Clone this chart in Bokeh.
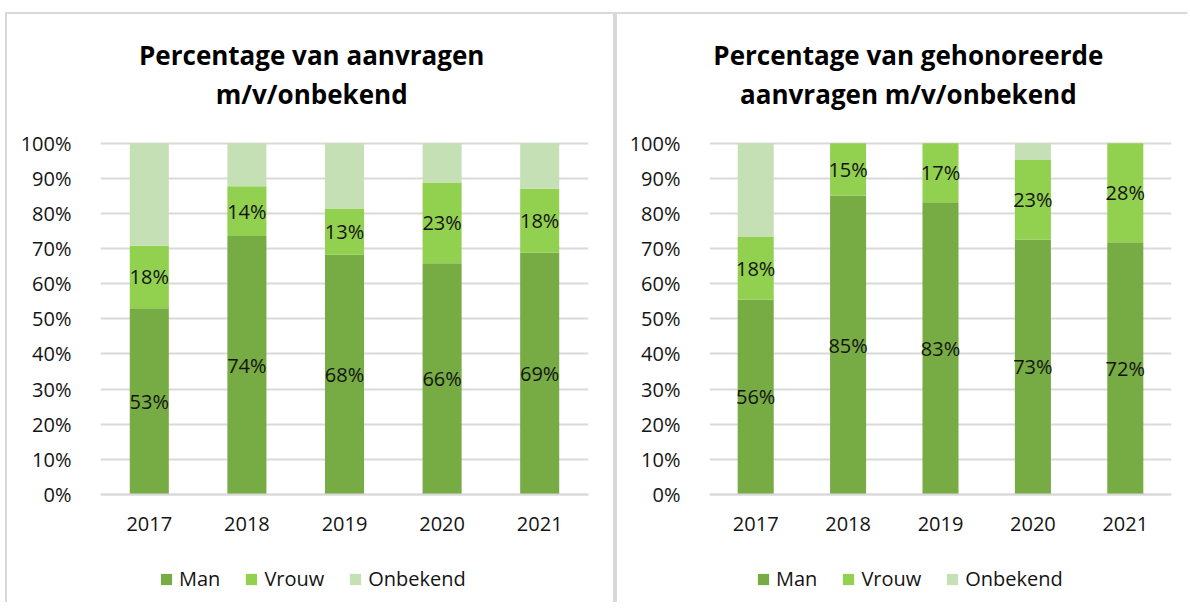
from bokeh.plotting import figure
from bokeh.models import (ColumnDataSource, FactorRange, Range1d, FixedTicker,
                          PrintfTickFormatter, LabelSet, Label)
from bokeh.layouts import row
from bokeh.embed import file_html
from bokeh.resources import INLINE
from bokeh.core.properties import value

# ---------------- data ----------------
years = ["2017", "2018", "2019", "2020", "2021"]
series = ["Man", "Vrouw", "Onbekend"]

# Percentage van aanvragen
aanv_man = [53.0, 73.6, 68.2, 65.8, 68.8]
aanv_vrouw = [17.8, 14.1, 13.2, 23.0, 18.2]
aanv_onbekend = [29.2, 12.3, 18.6, 11.2, 13.0]

# Percentage van gehonoreerde aanvragen
hon_man = [55.5, 85.0, 83.2, 72.6, 71.8]
hon_vrouw = [17.8, 15.0, 16.8, 22.6, 28.2]
hon_onbekend = [26.7, 0.0, 0.0, 4.8, 0.0]

title_left = ["Percentage van aanvragen", "m/v/onbekend"]
title_right = ["Percentage van gehonoreerde", "aanvragen m/v/onbekend"]

colors = ["#77AB43", "#92D050", "#C5E0B4"]
FONT = "Open Sans"
TXT = "#141414"
GRID = "#D9D9D9"

# vertical extent of the panel in data units (frame covers whole panel height)
Y_LO, Y_HI = -31.36, 136.64
TITLE_Y = [125.1, 114.0]


def make_panel(man, vrouw, onb, titles, fw, left, right, bar_w,
               title_x, legend_x, borders, margin):
    p = figure(x_range=FactorRange(*years), y_range=Range1d(Y_LO, Y_HI),
               frame_width=fw, frame_height=588, output_backend="svg",
               toolbar_location=None, min_border_left=left,
               min_border_right=right, min_border_top=0,
               min_border_bottom=0, margin=margin, styles=borders)
    p.outline_line_color = None
    p.background_fill_color = "white"
    p.border_fill_color = "white"

    src = ColumnDataSource(dict(year=years, Man=man, Vrouw=vrouw,
                                Onbekend=onb))
    p.vbar_stack(series, x="year", width=bar_w, color=colors, source=src,
                 line_color=None, legend_label=series)

    # data labels (Man and Vrouw)
    lx, ly, lt = [], [], []
    for i, y in enumerate(years):
        if man[i] > 0:
            lx.append(y); ly.append(man[i] / 2); lt.append(f"{round(man[i])}%")
        if vrouw[i] > 0:
            lx.append(y); ly.append(man[i] + vrouw[i] / 2)
            lt.append(f"{round(vrouw[i])}%")
    lsrc = ColumnDataSource(dict(x=lx, y=ly, t=lt))
    p.add_layout(LabelSet(x="x", y="y", text="t", source=lsrc,
                          text_align="center", text_baseline="middle",
                          text_font=value(FONT), text_font_size="20px",
                          text_color=TXT))

    # axes
    p.yaxis.ticker = FixedTicker(ticks=list(range(0, 101, 10)))
    p.yaxis.formatter = PrintfTickFormatter(format="%d%%")
    for ax in (p.xaxis[0], p.yaxis[0]):
        ax.major_tick_line_color = None
        ax.minor_tick_line_color = None
        ax.major_label_text_font = FONT
        ax.major_label_text_font_size = "20px"
        ax.major_label_text_color = TXT
    p.yaxis.axis_line_color = None
    p.yaxis.major_label_standoff = 23
    p.xaxis.fixed_location = 0
    p.xaxis.axis_line_color = GRID
    p.xaxis.axis_line_width = 2
    p.xaxis.major_label_standoff = 17
    p.xgrid.grid_line_color = None
    p.ygrid.grid_line_color = GRID
    p.ygrid.grid_line_width = 2

    # title: two centred lines
    for txt, yy in zip(titles, TITLE_Y):
        p.add_layout(Label(x=title_x, y=yy, text=txt, text_align="center",
                           text_baseline="middle", text_font=FONT,
                           text_font_style="bold", text_font_size="26px",
                           text_color="black"))

    lg = p.legend[0]
    lg.orientation = "horizontal"
    lg.location = (legend_x, 12)
    lg.border_line_color = None
    lg.background_fill_alpha = 0
    lg.padding = 0
    lg.margin = 0
    lg.spacing = 24
    lg.glyph_width = 14
    lg.glyph_height = 14
    lg.label_standoff = 6
    lg.label_height = 20
    lg.label_text_font = FONT
    lg.label_text_font_size = "20px"
    lg.label_text_color = TXT
    return p


b = "2px solid #D9D9D9"
p1 = make_panel(aanv_man, aanv_vrouw, aanv_onbekend, title_left, 484, 93, 29,
                0.40, 2.164, 59,
                {"border-top": b, "border-left": b, "border-right": b},
                (12, 0, 0, 5))
p2 = make_panel(hon_man, hon_vrouw, hon_onbekend, title_right, 460, 92, 18,
                0.39, 2.152, 47, {"border-top": b, "border-left": b},
                (12, 0, 0, 0))

layout = row(p1, p2, spacing=0)
open("out.html", "w").write(file_html(layout, INLINE))
